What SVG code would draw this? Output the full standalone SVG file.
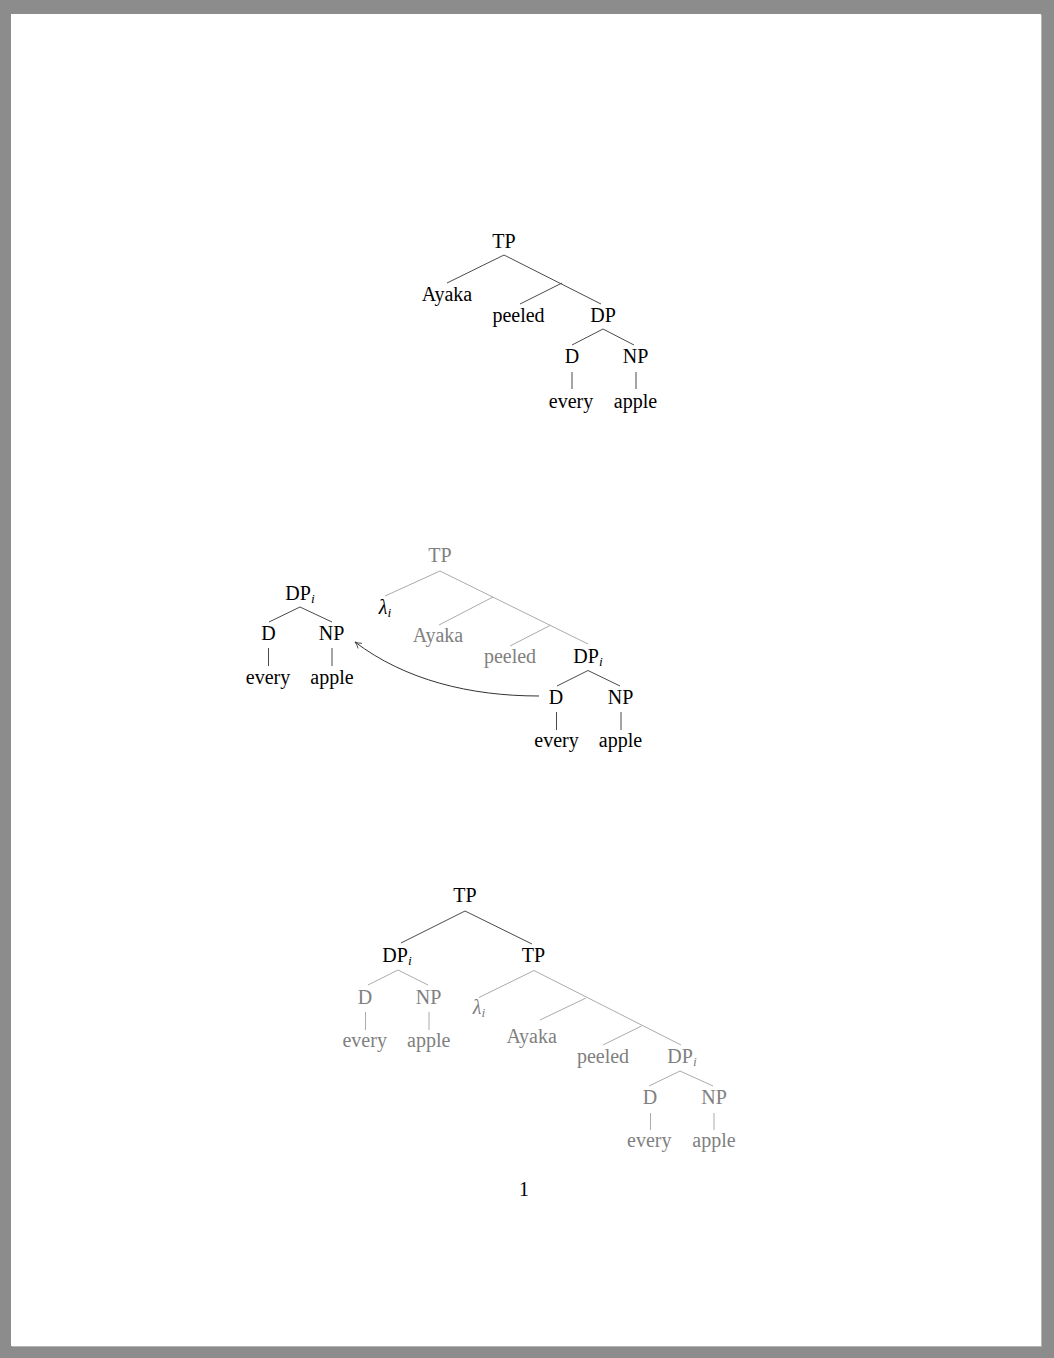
<svg xmlns="http://www.w3.org/2000/svg" width="1054" height="1358" viewBox="0 0 1054 1358">
<style>
text{font-family:"Liberation Serif","Times New Roman",serif;font-size:20px;text-anchor:middle;fill:#000}
text.g{fill:#808080}
.sub{font-style:italic;font-size:13.5px}
.it{font-style:italic}
line,path{fill:none;stroke-width:1}
.dk{stroke:#4a4a4a}
.lt{stroke:#ababab}
</style>
<defs>
<marker id="ah" viewBox="0 0 10 10" refX="9" refY="5" markerWidth="8" markerHeight="8" markerUnits="userSpaceOnUse" orient="auto">
<path d="M1,1 Q5,4 9,5 Q5,6 1,9" stroke="#333" stroke-width="1.2" fill="none"/>
</marker>
</defs>
<rect x="0" y="0" width="1054" height="1358" fill="#8c8c8c"/>
<rect x="12" y="15" width="1030" height="1332" fill="#b5b5b5"/>
<rect x="11" y="14" width="1030" height="1332" fill="#ffffff"/>

<g id="connectors">
<!-- tree 1 -->
<line class="dk" x1="504" y1="255" x2="447" y2="283"/>
<line class="dk" x1="504" y1="255" x2="601" y2="304"/>
<line class="dk" x1="562" y1="283" x2="520" y2="304"/>
<line class="dk" x1="603" y1="329" x2="572" y2="345"/>
<line class="dk" x1="603" y1="329" x2="634" y2="345"/>
<line class="dk" x1="572" y1="372" x2="572" y2="389"/>
<line class="dk" x1="636" y1="372" x2="636" y2="389"/>
<!-- tree 2 left -->
<line class="dk" x1="300" y1="607" x2="269" y2="622"/>
<line class="dk" x1="300" y1="607" x2="332" y2="622"/>
<line class="dk" x1="268.5" y1="648" x2="268.5" y2="666"/>
<line class="dk" x1="332" y1="648" x2="332" y2="666"/>
<!-- tree 2 right -->
<line class="lt" x1="440" y1="571" x2="385" y2="596"/>
<line class="lt" x1="440" y1="571" x2="588" y2="644"/>
<line class="lt" x1="493" y1="597" x2="439" y2="625"/>
<line class="lt" x1="550" y1="625.5" x2="510" y2="646"/>
<line class="dk" x1="588" y1="670.5" x2="557" y2="686"/>
<line class="dk" x1="588" y1="670.5" x2="620" y2="686"/>
<line class="dk" x1="556.5" y1="712" x2="556.5" y2="730"/>
<line class="dk" x1="621" y1="712" x2="621" y2="730"/>
<path d="M539,696 C470,696 405,680 355,642" stroke="#333" marker-end="url(#ah)"/>
<!-- tree 3 -->
<line class="dk" x1="465" y1="911" x2="401" y2="943"/>
<line class="dk" x1="465" y1="911" x2="532" y2="944"/>
<line class="lt" x1="398" y1="970" x2="368" y2="985"/>
<line class="lt" x1="398" y1="970" x2="428" y2="985"/>
<line class="lt" x1="365.5" y1="1012" x2="365.5" y2="1030"/>
<line class="lt" x1="429" y1="1012" x2="429" y2="1030"/>
<line class="lt" x1="534" y1="970.5" x2="479" y2="997.5"/>
<line class="lt" x1="534" y1="970.5" x2="681" y2="1045"/>
<line class="lt" x1="586" y1="998" x2="540" y2="1020"/>
<line class="lt" x1="641.5" y1="1026" x2="603" y2="1045"/>
<line class="lt" x1="680" y1="1071" x2="649" y2="1086"/>
<line class="lt" x1="680" y1="1071" x2="713" y2="1086"/>
<line class="lt" x1="650.5" y1="1113" x2="650.5" y2="1130"/>
<line class="lt" x1="714" y1="1113" x2="714" y2="1130"/>
</g>

<!-- tree 1 nodes -->
<g id="t1-TP"><text x="504" y="248">TP</text></g>
<g id="t1-Ayaka"><text x="447" y="301">Ayaka</text></g>
<g id="t1-peeled"><text x="518.5" y="322">peeled</text></g>
<g id="t1-DP"><text x="603" y="322">DP</text></g>
<g id="t1-D"><text x="572" y="363">D</text></g>
<g id="t1-NP"><text x="635.5" y="363">NP</text></g>
<g id="t1-every"><text x="571" y="407.5">every</text></g>
<g id="t1-apple"><text x="635.5" y="407.5">apple</text></g>

<!-- tree 2 left -->
<g id="t2l-DPi"><text x="300" y="600">DP<tspan class="sub" dy="3">i</tspan></text></g>
<g id="t2l-D"><text x="268.5" y="640">D</text></g>
<g id="t2l-NP"><text x="331.5" y="640">NP</text></g>
<g id="t2l-every"><text x="268" y="683.5">every</text></g>
<g id="t2l-apple"><text x="332" y="683.5">apple</text></g>

<!-- tree 2 right -->
<g id="t2-TP"><text class="g" x="440" y="562">TP</text></g>
<g id="t2-lambda"><text x="385" y="614"><tspan class="it">λ</tspan><tspan class="sub" dy="3">i</tspan></text></g>
<g id="t2-Ayaka"><text class="g" x="438" y="642">Ayaka</text></g>
<g id="t2-peeled"><text class="g" x="510" y="663">peeled</text></g>
<g id="t2-DPi"><text x="588" y="663">DP<tspan class="sub" dy="3">i</tspan></text></g>
<g id="t2-D"><text x="556" y="703.5">D</text></g>
<g id="t2-NP"><text x="620.5" y="703.5">NP</text></g>
<g id="t2-every"><text x="556.5" y="747">every</text></g>
<g id="t2-apple"><text x="620.5" y="747">apple</text></g>

<!-- tree 3 -->
<g id="t3-TP"><text x="465" y="902">TP</text></g>
<g id="t3-DPi"><text x="397" y="962">DP<tspan class="sub" dy="3">i</tspan></text></g>
<g id="t3-TP2"><text x="533.5" y="962">TP</text></g>
<g id="t3-D1"><text class="g" x="365" y="1003.5">D</text></g>
<g id="t3-NP1"><text class="g" x="428.5" y="1003.5">NP</text></g>
<g id="t3-every1"><text class="g" x="364.7" y="1047">every</text></g>
<g id="t3-apple1"><text class="g" x="428.7" y="1047">apple</text></g>
<g id="t3-lambda"><text class="g" x="479" y="1013.5"><tspan class="it">λ</tspan><tspan class="sub" dy="3">i</tspan></text></g>
<g id="t3-Ayaka"><text class="g" x="531.7" y="1042.5">Ayaka</text></g>
<g id="t3-peeled"><text class="g" x="603" y="1063">peeled</text></g>
<g id="t3-DPi2"><text class="g" x="682" y="1063">DP<tspan class="sub" dy="3">i</tspan></text></g>
<g id="t3-D2"><text class="g" x="650" y="1103.5">D</text></g>
<g id="t3-NP2"><text class="g" x="714" y="1103.5">NP</text></g>
<g id="t3-every2"><text class="g" x="649.3" y="1147">every</text></g>
<g id="t3-apple2"><text class="g" x="714" y="1147">apple</text></g>

<g id="page-number"><text x="524" y="1196">1</text></g>
</svg>
